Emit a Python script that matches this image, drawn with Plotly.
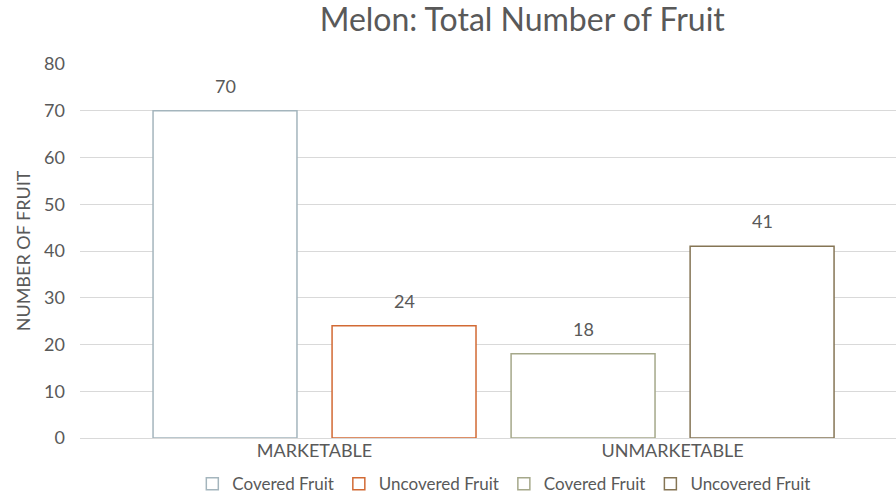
import plotly.graph_objects as go

categories = ["MARKETABLE", "UNMARKETABLE"]
series_names = ["Covered Fruit", "Uncovered Fruit", "Covered Fruit", "Uncovered Fruit"]
series_cats = [["MARKETABLE"], ["MARKETABLE"], ["UNMARKETABLE"], ["UNMARKETABLE"]]
series_vals = [[70], [24], [18], [41]]
series_colors = ["#A4B5BD", "#D26A34", "#A5A88A", "#857555"]
offset_groups = ["a", "b", "a", "b"]

FONT = "Gill Sans, Gill Sans MT, Lato, sans-serif"
GREY = "#595959"

W, H = 896, 503
ML, MR, MT, MB = 80, 0, 64, 65
XRANGE = [-0.655, 1.624]
slot_px = 0.5 * (W - ML - MR) / (XRANGE[1] - XRANGE[0])  # half-category in px

fig = go.Figure()
annotations = []
for name, cats, vals, col, og in zip(series_names, series_cats, series_vals, series_colors, offset_groups):
    fig.add_trace(go.Bar(
        x=cats, y=vals, name=name, offsetgroup=og,
        marker=dict(color="white", line=dict(color=col, width=1.5)),
        cliponaxis=False,
    ))
    shift = -slot_px / 2 if og == "a" else slot_px / 2
    for c, v in zip(cats, vals):
        annotations.append(dict(x=c, y=v, xref="x", yref="y", text=str(v), showarrow=False,
                                xshift=shift, yshift=12, yanchor="bottom",
                                font=dict(family=FONT, size=18, color=GREY)))

plot_h = H - MT - MB
fig.update_layout(
    width=W, height=H,
    margin=dict(l=ML, r=MR, t=MT, b=MB),
    paper_bgcolor="white", plot_bgcolor="white",
    barmode="group", bargap=0.0, bargroupgap=0.196,
    font=dict(family=FONT, color=GREY, size=18),
    annotations=annotations,
    title=dict(text="Melon: Total Number of Fruit", x=0.542, xref="paper", xanchor="center",
               y=0.96, yanchor="middle", font=dict(size=32, color=GREY, family=FONT)),
    xaxis=dict(range=XRANGE, showgrid=False, zeroline=False, showline=False,
               tickfont=dict(size=18, color=GREY, family=FONT), ticks="", categoryorder="array",
               categoryarray=categories),
    yaxis=dict(range=[0, 80], dtick=10, showgrid=True, gridcolor="#D9D9D9", gridwidth=1,
               zeroline=True, zerolinecolor="#D9D9D9", zerolinewidth=1, showline=False,
               tickfont=dict(size=18, color=GREY, family=FONT), ticks="", ticklabelstandoff=14,
               title=dict(text="NUMBER OF FRUIT", font=dict(size=18, color=GREY, family=FONT), standoff=8)),
    legend=dict(orientation="h", x=0.52, xanchor="center", y=-MB / plot_h + 0.002, yanchor="bottom",
                font=dict(size=17, color=GREY, family=FONT), itemwidth=30, traceorder="normal",
                tracegroupgap=0, borderwidth=0),
    showlegend=True,
)

fig.write_html("out.html", post_script="document.body.style.margin='0';",
               config={"displayModeBar": False})
